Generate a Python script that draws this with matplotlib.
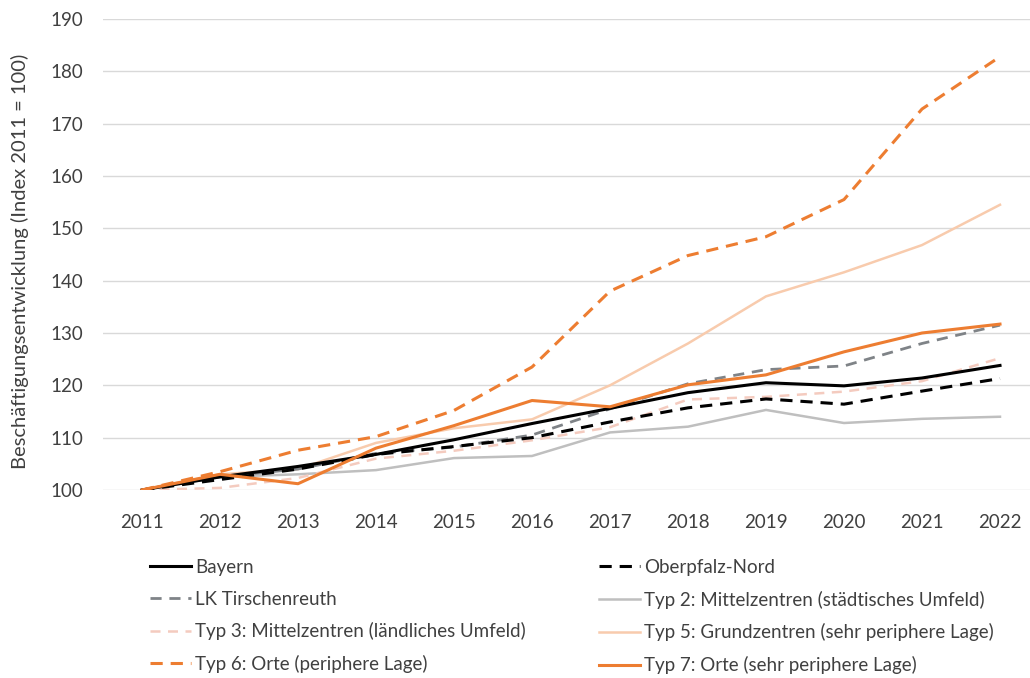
import numpy as np
import matplotlib
matplotlib.use('Agg')
import matplotlib.pyplot as plt

# Beschaeftigungsentwicklung, Index 2011 = 100
years = ['2011', '2012', '2013', '2014', '2015', '2016', '2017', '2018', '2019', '2020', '2021', '2022']

bayern      = [100, 102.5, 104.5, 106.8, 109.6, 112.7, 115.6, 118.6, 120.5, 119.9, 121.4, 123.8]
opf_nord    = [100, 102.0, 104.0, 106.8, 108.3, 110.0, 113.0, 115.7, 117.4, 116.4, 118.9, 121.3]
lk_tir      = [100, 102.5, 104.0, 107.0, 108.2, 110.5, 115.5, 120.3, 123.0, 123.7, 128.0, 131.5]
typ2        = [100, 102.5, 103.0, 103.8, 106.1, 106.5, 111.0, 112.1, 115.3, 112.8, 113.6, 114.0]
typ3        = [100, 100.4, 102.3, 106.0, 107.5, 109.5, 112.0, 117.3, 117.8, 118.8, 120.8, 125.2]
typ5        = [100, 103.0, 104.0, 109.0, 111.8, 113.5, 120.0, 128.0, 137.0, 141.6, 146.8, 154.5]
typ6        = [100, 103.5, 107.6, 110.2, 115.2, 123.5, 138.0, 144.8, 148.4, 155.5, 172.8, 182.8]
typ7        = [100, 103.0, 101.2, 108.0, 112.3, 117.1, 115.9, 120.1, 122.0, 126.4, 130.0, 131.7]

plt.rcParams['font.family'] = ['Lato', 'DejaVu Sans']
plt.rcParams['font.size'] = 13

fig = plt.figure(figsize=(10.3, 6.78), dpi=100)
ax = fig.add_axes([103/1030, 1 - 490/678, 936/1030, (490 - 19)/678])

x = np.arange(len(years))

ax.plot(x, typ2, color='#bfbfbf', lw=1.8, label='Typ 2: Mittelzentren (städtisches Umfeld)', zorder=2)
ax.plot(x, typ5, color='#f8cbad', lw=1.8, label='Typ 5: Grundzentren (sehr periphere Lage)', zorder=2)
ax.plot(x, typ3, color='#f4cbbf', lw=1.8, dashes=(4, 3), label='Typ 3: Mittelzentren (ländliches Umfeld)', zorder=2)
ax.plot(x, lk_tir, color='#7f8387', lw=2.0, dashes=(4, 2.8), label='LK Tirschenreuth', zorder=3)
ax.plot(x, opf_nord, color='black', lw=2.2, dashes=(4, 2.6), label='Oberpfalz-Nord', zorder=3)
ax.plot(x, bayern, color='black', lw=2.2, label='Bayern', zorder=3)
ax.plot(x, typ6, color='#ed7d31', lw=2.2, dashes=(4, 2.6), label='Typ 6: Orte (periphere Lage)', zorder=4)
ax.plot(x, typ7, color='#ed7d31', lw=2.2, label='Typ 7: Orte (sehr periphere Lage)', zorder=4)

ax.set_xlim(-0.5, 11.5)
ax.set_ylim(100, 190)
ax.set_yticks(np.arange(100, 191, 10))
ax.set_xticks(x)
ax.set_xticklabels(years)
ax.tick_params(axis='both', length=0, colors='#404040', labelsize=13.5)
ax.tick_params(axis='x', pad=17.5)
ax.tick_params(axis='y', pad=14)
ax.grid(axis='y', color='#d9d9d9', lw=1.0)
ax.set_axisbelow(True)
for s in ax.spines.values():
    s.set_visible(False)
ax.set_ylabel('Beschäftigungsentwicklung (Index 2011 = 100)', color='#404040', fontsize=14.5)
ax.yaxis.set_label_coords(-0.079, 0.485)

# legend order (column-wise fill)
h, l = ax.get_legend_handles_labels()
order = ['Bayern', 'LK Tirschenreuth', 'Typ 3: Mittelzentren (ländliches Umfeld)', 'Typ 6: Orte (periphere Lage)',
         'Oberpfalz-Nord', 'Typ 2: Mittelzentren (städtisches Umfeld)', 'Typ 5: Grundzentren (sehr periphere Lage)',
         'Typ 7: Orte (sehr periphere Lage)']
hh = [h[l.index(o)] for o in order]
fig.legend(hh, order, loc='upper left', bbox_to_anchor=(150/1030, 1 - 559/678), ncol=2, frameon=False,
           handlelength=2.2, handletextpad=0.2, columnspacing=3.9, labelspacing=0.78, fontsize=13.5,
           labelcolor='#404040', borderpad=0, borderaxespad=0)

plt.savefig('out.png', dpi=100)
